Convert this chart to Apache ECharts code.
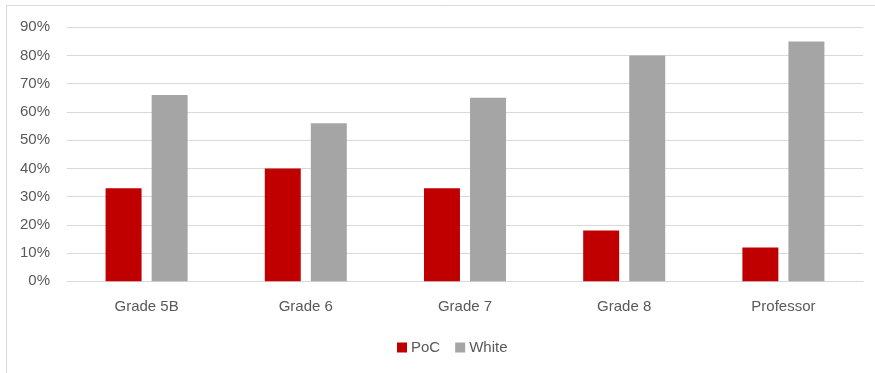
<!DOCTYPE html>
<html>
<head>
<meta charset="utf-8">
<script src="https://cdn.jsdelivr.net/npm/echarts@6/dist/echarts.min.js"></script>
<style>
  html, body { margin: 0; padding: 0; background: #fff; }
  #chart { width: 875px; height: 373px; }
</style>
</head>
<body>
<div id="chart"></div>
<script>
// Share of each group by grade
const categories = ['Grade 5B', 'Grade 6', 'Grade 7', 'Grade 8', 'Professor'];
const pocValues = [0.33, 0.40, 0.33, 0.18, 0.12];
const whiteValues = [0.66, 0.56, 0.65, 0.80, 0.85];
const seriesNames = ['PoC', 'White'];

const textFont = 'Liberation Sans';
const textColor = '#595959';
const gridColor = '#d9d9d9';

const chart = echarts.init(document.getElementById('chart'));
chart.setOption({
  animation: false,
  backgroundColor: '#ffffff',
  graphic: [{
    type: 'rect',
    shape: { x: 6.5, y: 5.5, width: 920, height: 420 },
    style: { fill: 'none', stroke: gridColor, lineWidth: 1 },
    silent: true,
    z: -1
  }],
  grid: { left: 67, right: 12, top: 27.3, bottom: 91.7, containLabel: false },
  legend: {
    data: seriesNames,
    left: 392,
    top: 335,
    itemWidth: 10,
    itemHeight: 10,
    itemGap: 15,
    icon: 'rect',
    textStyle: { fontFamily: textFont, fontSize: 15, color: textColor, padding: [0, 0, 0, -1] }
  },
  xAxis: {
    type: 'category',
    data: categories,
    axisTick: { show: false },
    axisLine: { lineStyle: { color: gridColor, width: 1 } },
    axisLabel: { fontFamily: textFont, fontSize: 15, color: textColor, margin: 18 }
  },
  yAxis: {
    type: 'value',
    min: 0,
    max: 0.9,
    interval: 0.1,
    axisLine: { show: false },
    axisTick: { show: false },
    splitLine: { lineStyle: { color: gridColor, width: 1 } },
    axisLabel: {
      fontFamily: textFont, fontSize: 15, color: textColor, margin: 17,
      formatter: v => Math.round(v * 100) + '%'
    }
  },
  series: [
    {
      name: seriesNames[0],
      type: 'bar',
      data: pocValues,
      barWidth: '22.6%',
      barGap: '28%',
      itemStyle: { color: '#C00000' }
    },
    {
      name: seriesNames[1],
      type: 'bar',
      data: whiteValues,
      barWidth: '22.6%',
      barGap: '28%',
      itemStyle: { color: '#A5A5A5' }
    }
  ]
});
</script>
</body>
</html>
